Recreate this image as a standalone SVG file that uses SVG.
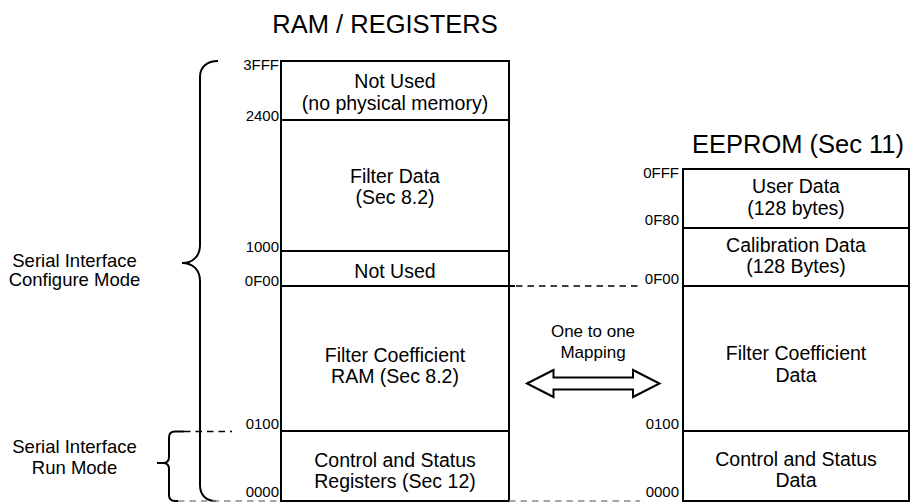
<svg xmlns="http://www.w3.org/2000/svg" width="913" height="502" viewBox="0 0 913 502">
<style>
text{font-family:"Liberation Sans",Arial,sans-serif;fill:#000}
.t{font-size:25.5px;text-anchor:middle}
.b{font-size:19.5px;text-anchor:middle}
.a{font-size:15px;text-anchor:end}
.s{font-size:18.5px;text-anchor:middle}
.m{font-size:17px;text-anchor:middle}
.box{fill:#fff;stroke:#000;stroke-width:2}
.ln{stroke:#000;stroke-width:2;fill:none}
.br{stroke:#000;stroke-width:2;fill:none}
.dk{stroke:#000;stroke-width:1.6;stroke-dasharray:6.5 5;fill:none}
.dg{stroke:#888;stroke-width:1.6;stroke-dasharray:6.5 5;fill:none}
</style>
<rect width="913" height="502" fill="#fff"/>
<text class="t" x="385" y="33">RAM / REGISTERS</text>
<text class="t" x="798" y="153">EEPROM (Sec 11)</text>

<g id="braces">
<path class="br" d="M218 61 C207 61 200 67 200 77 L200 245 C200 256 193 263 182 263 C193 263 200 270 200 281 L200 485 C200 495 206 501 216 501"/>
<path class="br" d="M184 431.5 H175 Q169 431.5 169 437.5 V457 Q169 463 163 463 H157 M163 463 Q169 463 169 469 V495 Q169 501 175 501 H178"/>
<text class="s" x="74.5" y="266.5">Serial Interface</text>
<text class="s" x="74.5" y="285.5">Configure Mode</text>
<text class="s" x="74.5" y="453">Serial Interface</text>
<text class="s" x="74.5" y="474">Run Mode</text>
</g>

<g id="ram">
<rect class="box" x="281" y="61" width="228" height="440"/>
<line class="ln" x1="281" y1="120" x2="509" y2="120"/>
<line class="ln" x1="281" y1="251" x2="509" y2="251"/>
<line class="ln" x1="281" y1="286" x2="515" y2="286"/>
<line class="ln" x1="281" y1="431" x2="509" y2="431"/>
<text class="a" x="279" y="70">3FFF</text>
<text class="a" x="279" y="121">2400</text>
<text class="a" x="279" y="252">1000</text>
<text class="a" x="279" y="286">0F00</text>
<text class="a" x="279" y="429">0100</text>
<text class="a" x="279" y="497">0000</text>
<g id="ram-notused-top"><text class="b" x="395" y="88">Not Used</text><text class="b" x="395" y="109.5">(no physical memory)</text></g>
<g id="ram-filterdata"><text class="b" x="395" y="182.5">Filter Data</text><text class="b" x="395" y="204">(Sec 8.2)</text></g>
<g id="ram-notused"><text class="b" x="395" y="278">Not Used</text></g>
<g id="ram-coef"><text class="b" x="395" y="361.5">Filter Coefficient</text><text class="b" x="395" y="383">RAM (Sec 8.2)</text></g>
<g id="ram-ctrl"><text class="b" x="395" y="466.5">Control and Status</text><text class="b" x="395" y="488">Registers (Sec 12)</text></g>
</g>

<g id="eeprom">
<rect class="box" x="683" y="169" width="226" height="332"/>
<line class="ln" x1="683" y1="228" x2="909" y2="228"/>
<line class="ln" x1="683" y1="286" x2="909" y2="286"/>
<line class="ln" x1="683" y1="431" x2="909" y2="431"/>
<text class="a" x="679" y="178">0FFF</text>
<text class="a" x="679" y="225">0F80</text>
<text class="a" x="679" y="284">0F00</text>
<text class="a" x="679" y="429">0100</text>
<text class="a" x="679" y="497">0000</text>
<g id="ee-user"><text class="b" x="796" y="193">User Data</text><text class="b" x="796" y="215">(128 bytes)</text></g>
<g id="ee-cal"><text class="b" x="796" y="251.5">Calibration Data</text><text class="b" x="796" y="273">(128 Bytes)</text></g>
<g id="ee-coef"><text class="b" x="796" y="360">Filter Coefficient</text><text class="b" x="796" y="382">Data</text></g>
<g id="ee-ctrl"><text class="b" x="796" y="465.5">Control and Status</text><text class="b" x="796" y="487">Data</text></g>
</g>

<g id="connectors">
<line class="dk" x1="516" y1="286" x2="640" y2="286"/>
<line class="dk" x1="184" y1="431.5" x2="232" y2="431.5"/>
<line class="dg" x1="178" y1="501" x2="281" y2="501"/>
<line class="dg" x1="509" y1="501" x2="640" y2="501"/>
<polygon points="527,383.5 553.5,370 553.5,377.5 633,377.5 633,370 659.5,383.5 633,397 633,389.5 553.5,389.5 553.5,397" fill="#fff" stroke="#000" stroke-width="2" stroke-linejoin="miter"/>
<text class="m" x="593" y="336.5">One to one</text>
<text class="m" x="593" y="357.5">Mapping</text>
</g>
</svg>
